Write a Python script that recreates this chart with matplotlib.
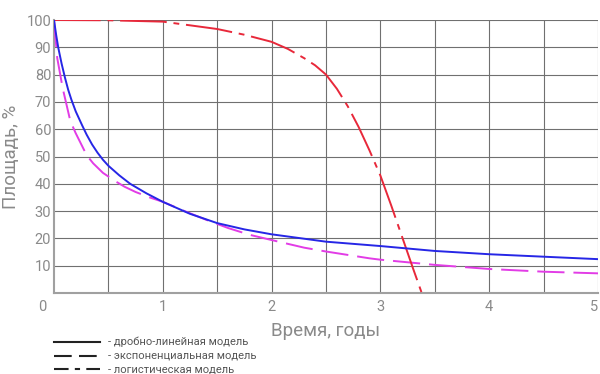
"""Area vs time for three decay models (fractional-linear, exponential, logistic)."""

import matplotlib

matplotlib.use("Agg")
import matplotlib.pyplot as plt
from matplotlib.lines import Line2D
import numpy as np

plt.rcParams["font.family"] = ["Roboto", "DejaVu Sans"]

# fractional-linear model (blue, solid)
t_frac = [0, 0.02, 0.04, 0.07, 0.10, 0.13, 0.16, 0.20, 0.26, 0.30, 0.35, 0.40,
          0.45, 0.50, 0.60, 0.70, 0.85, 1.00, 1.25, 1.50, 1.75, 2.00, 2.50,
          3.00, 3.50, 4.00, 4.50, 5.00]
area_frac = [100, 94.5, 89.7, 84, 79, 74.5, 70.8, 66.5, 61.3, 58, 54.4, 51.4,
             48.8, 46.6, 43.1, 40, 36.5, 33.4, 29, 25.6, 23.3, 21.5, 18.8,
             17.2, 15.4, 14.2, 13.3, 12.4]

# exponential model (magenta, dashed)
t_exp = [0, 0.03, 0.08, 0.15, 0.20, 0.30, 0.36, 0.45, 0.57, 0.65, 0.75, 0.88,
         1.00, 1.20, 1.40, 1.60, 1.80, 2.00, 2.30, 2.50, 2.90, 3.00, 3.50,
         4.00, 4.50, 5.00]
area_exp = [100, 86, 75, 63, 58.5, 50.5, 47.5, 44, 40.8, 38.9, 37, 35,
            33.4, 30.0, 26.8, 23.8, 21.3, 19.4, 16.6, 15.2, 12.7, 12.2, 10.3,
            8.8, 7.8, 7.2]

# logistic model (red, dash-dot)
t_log = [0, 0.5, 1.0, 1.5, 1.75, 2.0, 2.15, 2.3, 2.4, 2.5, 2.6, 2.7, 2.8,
         2.9, 3.0, 3.1, 3.2, 3.3, 3.38]
area_log = [100, 99.9, 99.4, 96.7, 94.6, 92, 89.4, 86, 83.4, 80, 74.8, 68.4,
            60.8, 52.2, 43, 32, 20.5, 9, 0]

x_ticks = [1, 2, 3, 4, 5]
y_ticks = [10, 20, 30, 40, 50, 60, 70, 80, 90, 100]

legend_labels = [
    "- дробно-линейная модель",
    "- экспоненциальная модель",
    "- логистическая модель",
]

TEXT_GRAY = "#8a8a8a"
DASHES_EXP = (14, 4.6)
DASHES_LOG = (24, 3.5, 3, 3.5)

fig = plt.figure(figsize=(6, 3.74), dpi=100)
ax = fig.add_axes([54 / 600, 1 - 293 / 374, 544 / 600, 273 / 374])

ax.plot(t_frac, area_frac, color="#2626e6", lw=1.4, zorder=4)
ax.plot(t_exp, area_exp, color="#e23ce6", lw=1.4, dashes=DASHES_EXP, zorder=3)
ax.plot(t_log, area_log, color="#e8283a", lw=1.4, dashes=DASHES_LOG, zorder=3)

ax.set_xlim(0, 5)
ax.set_ylim(0, 100)
ax.set_xticks(x_ticks)
ax.set_xticks(np.arange(0.5, 5.01, 1.0), minor=True)
ax.set_yticks(y_ticks)
ax.grid(True, which="both", color="#707070", lw=0.8)
ax.tick_params(which="both", length=0)
ax.tick_params(axis="x", pad=5, labelsize=10.5, labelcolor=TEXT_GRAY)
ax.tick_params(axis="y", pad=2, labelsize=10.5, labelcolor=TEXT_GRAY)
# the last x label sits on the figure edge; keep it inside
ax.get_xticklabels()[-1].set_horizontalalignment("right")

for side in ("top", "right"):
    ax.spines[side].set_visible(False)
for side in ("left", "bottom"):
    ax.spines[side].set_color("#a0a0a0")
    ax.spines[side].set_linewidth(1.5)

ax.text(-0.022, -0.025, "0", transform=ax.transAxes, ha="center", va="top",
        fontsize=10.5, color=TEXT_GRAY)

ax.set_xlabel("Время, годы", fontsize=13.5, color=TEXT_GRAY)
ax.set_ylabel("Площадь, %", fontsize=13.5, color=TEXT_GRAY)
ax.xaxis.set_label_coords(0.5, -0.105)
ax.yaxis.set_label_coords(-0.063, 0.5)

# legend drawn by hand under the axes
legend_styles = [dict(), dict(dashes=(8.5, 3.5)), dict(dashes=(7, 3, 2.5, 3))]
legend_y = [1 - 342 / 374, 1 - 356 / 374, 1 - 369 / 374]
for label, style, y in zip(legend_labels, legend_styles, legend_y):
    fig.add_artist(Line2D([54 / 600, 100 / 600], [y, y], color="#222222",
                          lw=1.5, transform=fig.transFigure, **style))
    fig.text(108 / 600, y, label, fontsize=8, color="#555555", va="center")

fig.savefig("out.png", dpi=100)
